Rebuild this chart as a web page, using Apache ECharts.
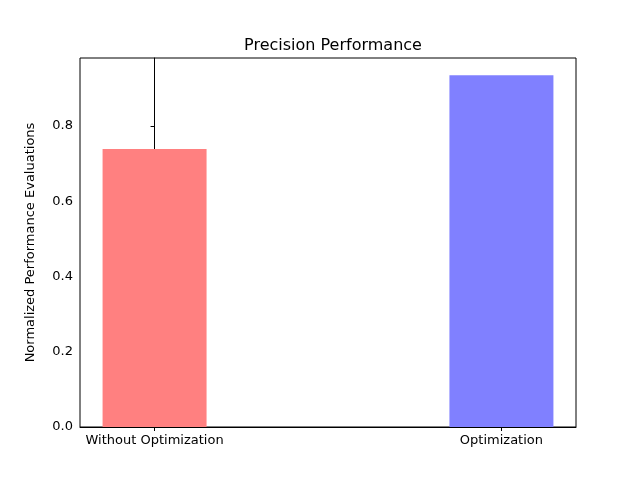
<!DOCTYPE html>
<html>
<head>
<meta charset="utf-8">
<script src="https://cdn.jsdelivr.net/npm/echarts@6/dist/echarts.min.js"></script>
<style>html,body{margin:0;padding:0;background:#fff}#main{width:640px;height:480px}</style>
</head>
<body>
<div id="main"></div>
<script>
var categories = ['Without Optimization', 'Optimization'];
var values = [0.739, 0.935];
var colors = ['#ff8080', '#8080ff'];
var yTicks = [0, 0.2, 0.4, 0.6, 0.8];

var chart = echarts.init(document.getElementById('main'));
var font = 'DejaVu Sans';
chart.setOption({
    animation: false,
    textStyle: { fontFamily: font },
    title: {
        text: 'Precision Performance', left: 328, top: 33, textAlign: 'center',
        textStyle: { fontFamily: font, fontSize: 16, fontWeight: 'normal', color: '#000' }
    },
    grid: { left: 80, right: 64, top: 58, bottom: 53, show: true, borderColor: '#000', borderWidth: 1 },
    xAxis: {
        type: 'value', min: -0.215, max: 1.215,
        splitLine: { show: false },
        axisLine: { lineStyle: { color: '#000' } },
        axisTick: { show: true, customValues: [0, 1], length: 4, lineStyle: { color: '#000' } },
        axisLabel: {
            customValues: [0, 1], color: '#000', fontSize: 13, margin: 7,
            formatter: function (v) { return categories[Math.round(v)]; }
        }
    },
    yAxis: {
        type: 'value', min: 0, max: 0.981,
        name: 'Normalized Performance Evaluations', nameLocation: 'middle', nameGap: 43,
        nameTextStyle: { color: '#000', fontSize: 13 },
        splitLine: { show: false },
        axisLine: { show: true, lineStyle: { color: '#000' } },
        axisTick: { show: true, customValues: yTicks, length: 4, lineStyle: { color: '#000' } },
        axisLabel: {
            customValues: yTicks, color: '#000', fontSize: 13, margin: 7,
            formatter: function (v) { return v.toFixed(1); }
        }
    },
    series: [{
        type: 'bar', barWidth: 104,
        data: values.map(function (v, i) {
            return { value: [i, v], itemStyle: { color: colors[i] } };
        })
    }]
});
</script>
</body>
</html>
